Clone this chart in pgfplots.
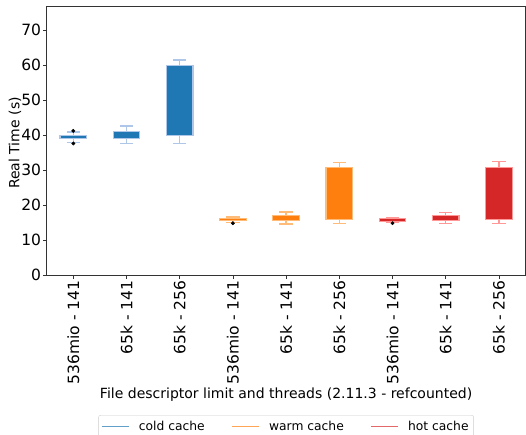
\documentclass[border=0pt]{standalone}
\usepackage{pgfplots}
\pgfplotsset{compat=1.18}
\usepackage{fontspec}
\setmainfont{DejaVu Sans}
\definecolor{cB}{HTML}{1F77B4}
\definecolor{cBl}{HTML}{AEC7E8}
\definecolor{cO}{HTML}{FF7F0E}
\definecolor{cOl}{HTML}{FFBB78}
\definecolor{cR}{HTML}{D62728}
\definecolor{cRl}{HTML}{FF9896}
% \bx{pos}{lower whisker}{q1}{median}{q3}{upper whisker}{dark}{light}
\newcommand{\bx}[8]{%
  \pgfmathsetmacro{\xa}{#1-0.25}\pgfmathsetmacro{\xb}{#1+0.25}%
  \pgfmathsetmacro{\ca}{#1-0.125}\pgfmathsetmacro{\cb}{#1+0.125}%
  \edef\temp{%
    \noexpand\addplot[forget plot, draw=#8, line width=1.3pt] coordinates {(#1,#5) (#1,#6)};
    \noexpand\addplot[forget plot, draw=#8, line width=1.3pt] coordinates {(#1,#3) (#1,#2)};
    \noexpand\addplot[forget plot, draw=#8, line width=1.3pt] coordinates {(\ca,#6) (\cb,#6)};
    \noexpand\addplot[forget plot, draw=#8, line width=1.3pt] coordinates {(\ca,#2) (\cb,#2)};
    \noexpand\addplot[forget plot, fill=#7, draw=#8, line width=1.1pt] coordinates {(\xa,#3) (\xb,#3) (\xb,#5) (\xa,#5)} -- cycle;
  }\temp}
\begin{document}
\begin{tikzpicture}
\clip (0,0) rectangle (526pt,434pt);
\begin{axis}[
  at={(46.7pt,159pt)}, anchor=south west,
  scale only axis, width=478.8pt, height=268.3pt,
  xmin=0.5, xmax=9.5, ymin=0, ymax=76.7,
  xtick={1,...,9},
  xticklabels={536mio - 141,65k - 141,65k - 256,536mio - 141,65k - 141,65k - 256,536mio - 141,65k - 141,65k - 256},
  ytick={0,10,...,70},
  tick pos=left, tick align=outside, major tick length=3.5pt,
  tick style={black!80, line width=0.8pt},
  axis line style={black!80, line width=0.8pt},
  /pgf/number format/assume math mode=true,
  ticklabel style={font=\fontsize{15.5}{18}\selectfont},
  xticklabel style={rotate=90, anchor=east, inner sep=2pt},
  yticklabel style={inner sep=2pt},
  xlabel={File descriptor limit and threads (2.11.3 - refcounted)},
  ylabel={Real Time (s)},
  label style={font=\fontsize{14}{17}\selectfont},
  xlabel style={at={(axis description cs:0.5,-0.447)}, anchor=center},
  ylabel style={at={(axis description cs:-0.066,0.492)}, anchor=center},
  legend columns=3,
  legend style={at={(axis description cs:0.5,-0.522)}, anchor=north,
    font=\fontsize{12.3}{15}\selectfont, draw=black!20, rounded corners=2pt,
    inner xsep=3pt, inner ysep=4pt,
    /tikz/every odd column/.append style={column sep=7pt},
    /tikz/every even column/.append style={column sep=25pt}},
  legend image code/.code={\draw[#1] (0pt,0pt) -- (27pt,0pt);},
]
% cold cache
\bx{1}{37.9}{38.9}{39.5}{40.0}{40.9}{cB}{cBl}
\bx{2}{37.6}{39.0}{40.0}{41.0}{42.6}{cB}{cBl}
\bx{3}{37.6}{40.0}{50.0}{59.8}{61.5}{cB}{cBl}
% warm cache
\bx{4}{15.1}{15.5}{15.8}{16.1}{16.6}{cO}{cOl}
\bx{5}{14.6}{15.5}{16.3}{17.1}{18.0}{cO}{cOl}
\bx{6}{14.8}{15.9}{23.0}{30.7}{32.1}{cO}{cOl}
% hot cache
\bx{7}{15.0}{15.4}{15.7}{16.1}{16.5}{cR}{cRl}
\bx{8}{14.8}{15.5}{16.2}{16.9}{17.9}{cR}{cRl}
\bx{9}{14.8}{15.9}{23.0}{30.7}{32.4}{cR}{cRl}
% outliers
\addplot[forget plot, only marks, mark=*, mark size=1.7pt, mark options={draw=black, fill=black}]
  coordinates {(1,41.2) (1,37.6) (4,14.8) (7,14.8)};
\addlegendimage{cB!70!white, line width=1.3pt}
\addlegendentry{cold cache}
\addlegendimage{cO!70!white, line width=1.3pt}
\addlegendentry{warm cache}
\addlegendimage{cR!70!white, line width=1.3pt}
\addlegendentry{hot cache}
\end{axis}
\end{tikzpicture}
\end{document}
